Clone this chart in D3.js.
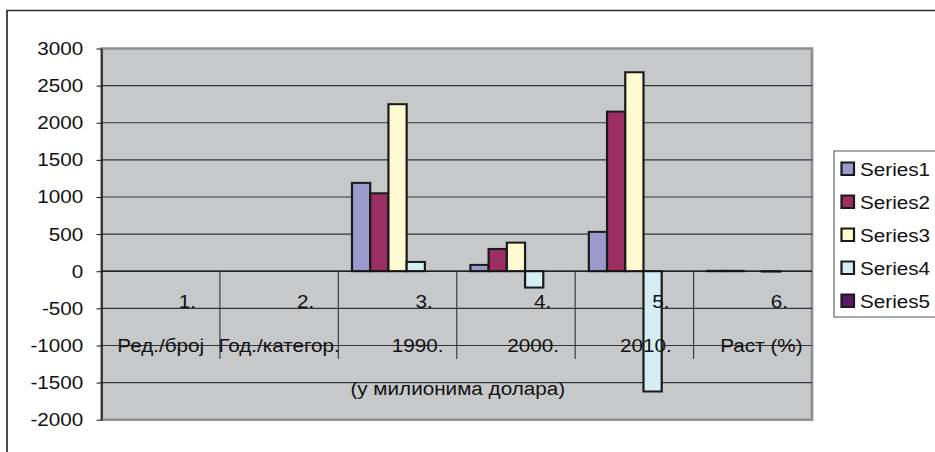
<!DOCTYPE html>
<html>
<head>
<meta charset="utf-8">
<script src="https://cdn.jsdelivr.net/npm/d3@7/dist/d3.min.js"></script>
<style>
  html, body { margin: 0; padding: 0; background: #ffffff; }
  svg { display: block; }
  text { font-family: "Liberation Sans", Arial, sans-serif; }
</style>
</head>
<body>
<svg id="chart"></svg>
<script>
// ---------- data ----------
const categories = ["1.", "2.", "3.", "4.", "5.", "6."];
const subLabels = ["Ред./број", "Год./категор.", "       1990.", "      2000.", "    2010.", "   Раст (%)"];
const groupLabel = "(у милионима долара)";
const seriesNames = ["Series1", "Series2", "Series3", "Series4", "Series5"];
const series1 = [null, null, 1190, 85, 530, 5];
const series2 = [null, null, 1050, 300, 2150, 5];
const series3 = [null, null, 2250, 385, 2680, null];
const series4 = [null, null, 125, -220, -1620, -5];
const series5 = [null, null, null, null, null, null];
const yTicks = [-2000, -1500, -1000, -500, 0, 500, 1000, 1500, 2000, 2500, 3000];
const seriesColors = ["#9a9bcc", "#9b2f62", "#fffbd0", "#d4eef4", "#5a1a66"];

const allSeries = [series1, series2, series3, series4, series5];

// ---------- layout (screen px, x divided by horizontal stretch) ----------
const W = 935, H = 452, SX = 1.1;
const X = v => v / SX;
const plot = { left: 101.5, right: 812, top: 48.5, bottom: 419.7 };
const FS = 18.8;
const INK = "#111111";

const svg = d3.select("#chart")
  .attr("width", W).attr("height", H)
  .attr("viewBox", `0 0 ${W / SX} ${H}`)
  .attr("preserveAspectRatio", "none");

// outer chart border
svg.append("rect")
  .attr("x", X(7)).attr("y", 10.5)
  .attr("width", X(W + 20)).attr("height", H + 20)
  .attr("fill", "#fff").attr("stroke", "#2a2a2a").attr("stroke-width", 1.5);

// scales
const x = d3.scaleBand().domain(categories).range([X(plot.left), X(plot.right)]).paddingInner(0).paddingOuter(0);
const xs = d3.scaleBand().domain(seriesNames).range([0, x.bandwidth()]).paddingInner(0).paddingOuter(0.75);
const y = d3.scaleLinear().domain([-2000, 3000]).range([plot.bottom, plot.top]);

// plot area
svg.append("rect")
  .attr("x", X(plot.left)).attr("y", plot.top)
  .attr("width", X(plot.right - plot.left)).attr("height", plot.bottom - plot.top)
  .attr("fill", "#c7c8ca").attr("stroke", "#8f8f8f").attr("stroke-width", 2.5);

// gridlines
svg.append("g").selectAll("line").data(yTicks.filter(t => t !== -2000 && t !== 3000)).join("line")
  .attr("x1", X(plot.left)).attr("x2", X(plot.right))
  .attr("y1", d => y(d)).attr("y2", d => y(d))
  .attr("stroke", "#333").attr("stroke-width", 1.1);

// bars
const barData = [];
allSeries.forEach((s, si) => s.forEach((v, ci) => {
  if (v !== null) barData.push({ series: seriesNames[si], cat: categories[ci], value: v, color: seriesColors[si] });
}));
svg.append("g").selectAll("rect").data(barData).join("rect")
  .attr("x", d => x(d.cat) + xs(d.series))
  .attr("width", xs.bandwidth())
  .attr("y", d => y(Math.max(0, d.value)))
  .attr("height", d => Math.abs(y(d.value) - y(0)))
  .attr("fill", d => d.color)
  .attr("stroke", "#1a1a1a").attr("stroke-width", 2);

// category axis line
svg.append("line")
  .attr("x1", X(plot.left)).attr("x2", X(plot.right))
  .attr("y1", y(0)).attr("y2", y(0))
  .attr("stroke", INK).attr("stroke-width", 1.2);

// category tick separators
svg.append("g").selectAll("line").data(categories.slice(1)).join("line")
  .attr("x1", d => x(d)).attr("x2", d => x(d))
  .attr("y1", y(0)).attr("y2", 359)
  .attr("stroke", "#333").attr("stroke-width", 1);

// y axis
const yAxis = d3.axisLeft(y).tickValues(yTicks).tickSize(X(5)).tickPadding(12).tickSizeOuter(0)
  .tickFormat(d => String(d));
const ga = svg.append("g").attr("transform", `translate(${X(plot.left)},0)`).call(yAxis);
ga.select(".domain").attr("stroke", INK).attr("stroke-width", 1.2);
ga.selectAll(".tick line").attr("stroke", INK);
ga.selectAll(".tick text")
  .attr("font-family", "Liberation Sans, Arial, sans-serif")
  .attr("font-size", FS).attr("fill", INK);

// category labels level 1
svg.append("g").selectAll("text").data(categories).join("text")
  .attr("x", d => x(d) + x.bandwidth() - X(24))
  .attr("y", 308)
  .attr("text-anchor", "end")
  .attr("font-size", FS).attr("fill", INK)
  .text(d => d);

// category labels level 2
svg.append("g").selectAll("text").data(subLabels).join("text")
  .attr("x", (d, i) => x(categories[i]) + x.bandwidth() / 2)
  .attr("y", 352)
  .attr("text-anchor", "middle")
  .style("white-space", "pre")
  .attr("xml:space", "preserve")
  .attr("font-size", FS).attr("fill", INK)
  .text(d => d);

// group label
svg.append("text")
  .attr("x", X((plot.left + plot.right) / 2 + 1))
  .attr("y", 395)
  .attr("text-anchor", "middle")
  .attr("font-size", FS).attr("fill", INK)
  .text(groupLabel);

// legend
const lg = svg.append("g");
lg.append("rect")
  .attr("x", X(834)).attr("y", 151)
  .attr("width", X(140)).attr("height", 166)
  .attr("fill", "#fff").attr("stroke", "#555").attr("stroke-width", 1);
const items = lg.selectAll("g.item").data(seriesNames).join("g").attr("class", "item")
  .attr("transform", (d, i) => `translate(0,${162 + i * 33})`);
items.append("rect")
  .attr("x", X(841.5)).attr("y", 0.5)
  .attr("width", X(12.5)).attr("height", 12.5)
  .attr("fill", (d, i) => seriesColors[i])
  .attr("stroke", "#1a1a1a").attr("stroke-width", 2);
items.append("text")
  .attr("x", X(860)).attr("y", 13.5)
  .attr("font-size", FS).attr("fill", INK)
  .text(d => d);
</script>
</body>
</html>
